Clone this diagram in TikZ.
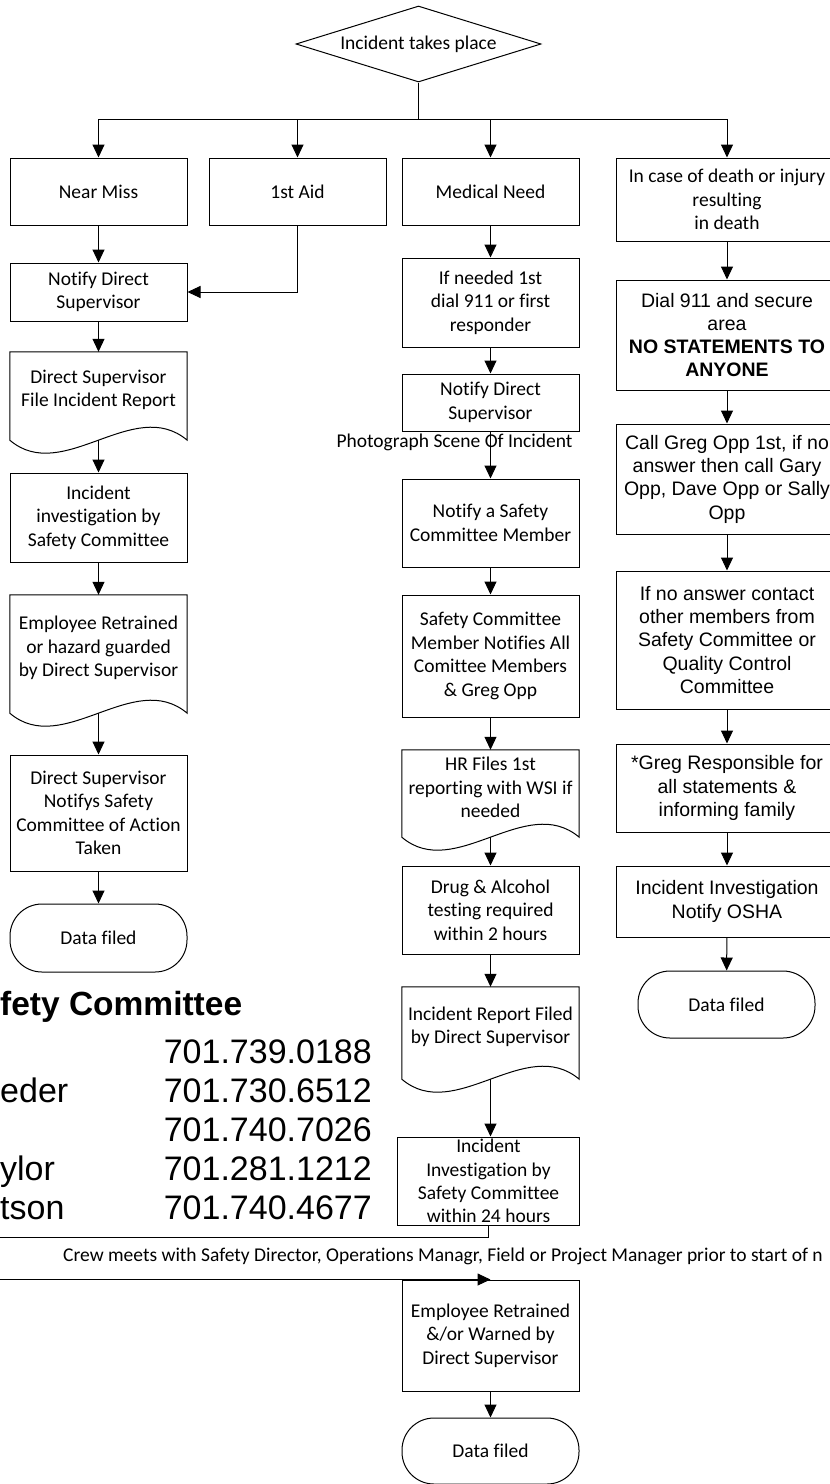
\documentclass[tikz,border=0pt]{standalone}
\usepackage{fontspec}
\setmainfont{Carlito}[Ligatures=NoCommon]
\newfontfamily\fCarl{Carlito}[Ligatures=NoCommon]
\newfontfamily\fAri{Liberation Sans}
\usetikzlibrary{arrows.meta,shapes.geometric,calc}
\newcommand\calfont{\fCarl\fontsize{19.5}{23.4}\selectfont}
\newcommand\arifont{\fAri\fontsize{19.5}{23.3}\selectfont}
\newcommand\bigfont{\fAri\fontsize{34}{39}\selectfont}
\newcommand\docout[1]{%
  \draw[ln] (#1.north west) -- ($(#1.south west)+(0,12)$)
    .. controls ($(#1.south west)+(53,57)$) and ($(#1.south west)+(124,-33)$) ..
    ($(#1.south east)+(0,12)$) -- (#1.north east) -- cycle;
  \coordinate (#1-b) at ($(#1.south)+(0,12)$);}
\begin{document}
\begin{tikzpicture}[x=1pt,y=-1pt,
  ln/.style={line width=1pt, draw=black},
  arr/.style={ln, -{Triangle[width=12pt,length=13pt]}},
  box/.style={ln, draw, rectangle, inner sep=0pt, align=center, font=\calfont, minimum width=177pt},
  abox/.style={box, font=\arifont, minimum width=222pt},
  docbox/.style={rectangle, inner sep=0pt, align=center, font=\calfont, minimum width=177pt},
  term/.style={box, rounded corners=32pt},
  dia/.style={ln, draw, diamond, aspect=3.22, inner sep=0pt, font=\calfont, minimum width=245pt, minimum height=76pt},
  plain/.style={inner sep=0pt, font=\calfont}]
\useasboundingbox (0,0) rectangle (830,1484);
\fill[white] (0,0) rectangle (830,1484);
\clip (0,0) rectangle (830,1484);

% top
\node[dia] (start) at (418.5,44) {Incident takes place};
\coordinate (hub) at (418.5,119);

% left column
\node[box, minimum height=67pt] (nm) at (98.5,191.5) {Near Miss};
\node[box, minimum height=67pt] (aid) at (297.5,191.5) {1st Aid};
\node[box, minimum height=58pt] (ndsL) at (98.5,292) {Notify Direct\\Supervisor};
\node[docbox, minimum height=76pt] (docA) at (98.5,390) {Direct Supervisor\\File Incident Report};
\node[box, minimum height=89pt] (invL) at (98.5,517.5) {Incident\\investigation by\\Safety Committee};
\node[docbox, minimum height=106pt] (docB) at (98.5,648) {Employee Retrained\\or hazard guarded\\by Direct Supervisor};
\node[box, minimum height=116pt] (dsn) at (98.5,813) {Direct Supervisor\\Notifys Safety\\Committee of Action\\Taken};
\node[term, minimum height=68pt] (dfL) at (98.5,938) {Data filed};
\docout{docA}
\docout{docB}

% middle column
\node[box, minimum height=67pt] (med) at (490.5,191.5) {Medical Need};
\node[box, minimum height=89pt] (need) at (490.5,302.5) {If needed 1st\\dial 911 or first\\responder};
\node[box, minimum height=57pt] (ndsM) at (490.5,402.5) {Notify Direct\\Supervisor};
\node[plain, anchor=base] (photo) at (454.5,447) {Photograph Scene Of Incident};
\node[box, minimum height=88pt] (nsc) at (490.5,523) {Notify a Safety\\Committee Member};
\node[box, minimum height=122pt] (scm) at (490.5,656) {Safety Committee\\Member Notifies All\\Comittee Members\\\& Greg Opp};
\node[docbox, minimum height=75pt] (docC) at (490.5,787.5) {HR Files 1st\\reporting with WSI if\\needed};
\node[box, minimum height=88pt] (drug) at (490.5,910) {Drug \& Alcohol\\testing required\\within 2 hours};
\node[docbox, minimum height=80pt] (docD) at (490.5,1027) {Incident Report Filed\\by Direct Supervisor};
\node[box, minimum width=182pt, minimum height=88pt] (inv24) at (488.5,1181) {Incident\\Investigation by\\Safety Committee\\within 24 hours};
\node[plain, anchor=base west] (crew) at (63,1261) {Crew meets with Safety Director, Operations Managr, Field or Project Manager prior to start of n};
\node[box, minimum height=111pt] (ret) at (490.5,1335.5) {Employee Retrained\\\&/or Warned by\\Direct Supervisor};
\node[term, minimum height=66pt] (dfM) at (490.5,1451) {Data filed};
\docout{docC}
\docout{docD}
\coordinate (lpa) at (-20,1237);

% right column
\node[box, minimum width=222pt, minimum height=83pt] (death) at (727,199.5) {In case of death or injury\\resulting\\in death};
\node[abox, minimum height=110pt] (dial) at (727,335) {Dial 911 and secure\\area\\\textbf{NO STATEMENTS TO}\\\textbf{ANYONE}};
\node[abox, minimum height=110pt] (call) at (727,479) {Call Greg Opp 1st, if no\\answer then call Gary\\Opp, Dave Opp or Sally\\Opp};
\node[abox, minimum height=138pt] (noans) at (727,640) {If no answer contact\\other members from\\Safety Committee or\\Quality Control\\Committee};
\node[abox, minimum height=88pt] (greg) at (727,788) {*Greg Responsible for\\all statements \&\\informing family};
\node[abox, minimum height=71pt] (osha) at (727,901.5) {Incident Investigation\\Notify OSHA};
\node[term, minimum height=67pt] (dfR) at (726.5,1004.5) {Data filed};

% safety committee list
\node[inner sep=0pt, anchor=base west, font=\fAri\bfseries\fontsize{33.5}{39}\selectfont] (sct) at (0,1015) {fety Committee};
\node[inner sep=0pt, anchor=base east, font=\bigfont] (p1) at (372,1063) {701.739.0188};
\node[inner sep=0pt, anchor=base east, font=\bigfont] (p2) at (372,1102) {701.730.6512};
\node[inner sep=0pt, anchor=base east, font=\bigfont] (p3) at (372,1141) {701.740.7026};
\node[inner sep=0pt, anchor=base east, font=\bigfont] (p4) at (372,1180) {701.281.1212};
\node[inner sep=0pt, anchor=base east, font=\bigfont] (p5) at (372,1219) {701.740.4677};
\node[inner sep=0pt, anchor=base west, font=\bigfont] (n2) at (0,1102) {eder};
\node[inner sep=0pt, anchor=base west, font=\bigfont] (n4) at (0,1180) {ylor};
\node[inner sep=0pt, anchor=base west, font=\bigfont] (n5) at (0,1219) {tson};

% connectors
\draw[ln] (start.south) -- (hub);
\draw[arr] (hub) -| (nm.north);
\draw[arr] (hub) -| (aid.north);
\draw[arr] (hub) -| (med.north);
\draw[arr] (hub) -| (death.north);

\draw[arr] (nm) -- (ndsL);
\draw[arr] (aid.south) |- (ndsL.east);
\draw[arr] (ndsL) -- (docA.north);
\draw[arr] (docA-b) -- (invL);
\draw[arr] (invL) -- (docB.north);
\draw[arr] (docB-b) -- (dsn);
\draw[arr] (dsn) -- (dfL);

\draw[arr] (med) -- (need);
\draw[arr] (need) -- (ndsM);
\draw[arr] (ndsM) -- (nsc);
\draw[arr] (nsc) -- (scm);
\draw[arr] (scm) -- (docC.north);
\draw[arr] (docC-b) -- (drug);
\draw[arr] (drug) -- (docD.north);
\draw[arr] (docD-b) -- (docD-b |- inv24.north);
\draw[arr] (inv24.south) |- (lpa) |- (ret.north);
\draw[arr] (ret) -- (dfM);

\draw[arr] (death) -- (dial);
\draw[arr] (dial) -- (call);
\draw[arr] (call) -- (noans);
\draw[arr] (noans) -- (greg);
\draw[arr] (greg) -- (osha);
\draw[arr] (osha) -- (dfR);
\end{tikzpicture}
\end{document}
